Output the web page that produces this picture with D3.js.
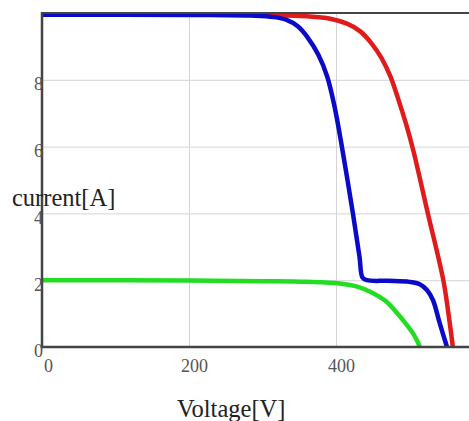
<!DOCTYPE html>
<html>
<head>
<meta charset="utf-8">
<script src="https://cdn.jsdelivr.net/npm/d3@7"></script>
<style>
  body { margin: 0; background: #fff; }
  svg { display: block; }
  .grid line { stroke: #d4d4d4; stroke-width: 1; }
  .grid path { display: none; }
  .tick text { font-family: "Liberation Serif", serif; font-size: 18px; fill: #555; }
  .title { font-family: "Liberation Serif", serif; font-size: 24.5px; fill: #222; }
  .curve { fill: none; stroke-width: 4.5; stroke-linejoin: round; }
</style>
</head>
<body>
<svg id="chart"></svg>
<script>
// tick values
const xTicks = [0, 200, 400]
const xGrid = [200, 400, 600]
const yTicks = [0, 2, 4, 6, 8]

// I-V curves: [voltage, current]
const redCurve = [
  [0, 9.95], [200, 9.95], [300, 9.94], [360, 9.9], [392, 9.83], [415, 9.68],
  [433, 9.45], [448, 9.1], [462, 8.65], [474, 8.1], [485, 7.4],
  [495, 6.7], [505, 5.9], [525, 4.0], [546, 2.0], [553, 1.0], [559, 0]
]
const blueCurve = [
  [0, 9.95], [200, 9.94], [290, 9.92], [315, 9.88], [332, 9.8], [348, 9.6],
  [362, 9.25], [376, 8.75], [388, 8.1], [398, 7.2], [408, 6.0], [423, 4.0],
  [432, 2.7], [436, 2.08], [442, 2.0], [470, 1.98], [500, 1.95], [514, 1.88],
  [524, 1.7], [532, 1.4], [541, 0.72], [551, 0]
]
const greenCurve = [
  [0, 2.0], [200, 1.99], [300, 1.97], [360, 1.95], [405, 1.9], [430, 1.8],
  [450, 1.62], [468, 1.37], [483, 1.02], [495, 0.7], [505, 0.4], [510, 0.2], [514, 0]
]

const width = 469
const height = 421
const margin = { top: 13, left: 42 }

const svg = d3.select('#chart')
  .attr('width', width)
  .attr('height', height)

const xScale = d3.scaleLinear()
  .domain([0, 600])
  .range([margin.left, margin.left + 441])

const yScale = d3.scaleLinear()
  .domain([0, 10])
  .range([347, margin.top])

// gridlines
svg.append('g')
  .attr('class', 'grid')
  .attr('transform', `translate(0, ${yScale(0)})`)
  .call(d3.axisBottom(xScale).tickValues(xGrid).tickSize(-(yScale(0) - yScale(10))).tickFormat(''))

svg.append('g')
  .attr('class', 'grid')
  .attr('transform', `translate(${xScale(0)}, 0)`)
  .call(d3.axisLeft(yScale).tickValues(yTicks.slice(1)).tickSize(-(xScale(600) - xScale(0))).tickFormat(''))

// curves
const line = d3.line()
  .x(d => xScale(d[0]))
  .y(d => yScale(d[1]))
  .curve(d3.curveCatmullRom.alpha(0.5))

const series = [
  { data: redCurve, color: '#e01b1b' },
  { data: blueCurve, color: '#0a0ac8' },
  { data: greenCurve, color: '#22dd22' }
]

svg.selectAll('.curve')
  .data(series)
  .join('path')
  .attr('class', 'curve')
  .attr('stroke', d => d.color)
  .attr('d', d => line(d.data))

// frame
const frameColor = '#444'
svg.append('line')
  .attr('x1', xScale(0)).attr('x2', xScale(600))
  .attr('y1', yScale(10)).attr('y2', yScale(10))
  .attr('stroke', frameColor).attr('stroke-width', 2)
svg.append('line')
  .attr('x1', xScale(0)).attr('x2', xScale(600))
  .attr('y1', yScale(0)).attr('y2', yScale(0))
  .attr('stroke', frameColor).attr('stroke-width', 2.5)
svg.append('line')
  .attr('x1', xScale(0)).attr('x2', xScale(0))
  .attr('y1', yScale(10) - 1).attr('y2', yScale(0) + 1)
  .attr('stroke', frameColor).attr('stroke-width', 2.5)

// tick labels
const xAxis = svg.append('g')
  .attr('transform', `translate(0, ${yScale(0)})`)
  .call(d3.axisBottom(xScale).tickValues(xTicks).tickSize(0).tickPadding(12))
xAxis.select('.domain').remove()
xAxis.selectAll('.tick text').attr('dx', d => d === 0 ? 6 : 5)

const yAxis = svg.append('g')
  .attr('transform', `translate(${xScale(0) + 1}, 0)`)
  .call(d3.axisLeft(yScale).tickValues(yTicks).tickSize(0).tickPadding(0))
yAxis.select('.domain').remove()
yAxis.selectAll('.tick text').attr('dy', '0.55em')

// axis titles
svg.append('text')
  .attr('class', 'title')
  .attr('x', 12)
  .attr('y', 206)
  .text('current[A]')

svg.append('text')
  .attr('class', 'title')
  .attr('x', 177)
  .attr('y', 417)
  .text('Voltage[V]')
</script>
</body>
</html>
